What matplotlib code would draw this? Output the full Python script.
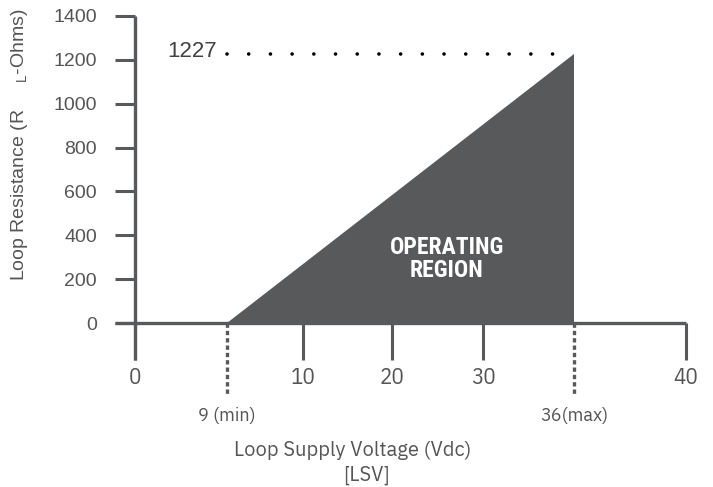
import numpy as np
import matplotlib.pyplot as plt
from matplotlib.font_manager import fontManager

# data
v_min = 9
v_max = 36
r_max = 1227
region_v = [v_min, v_max, v_max]
region_r = [0, 0, r_max]
x_ticks = [0, 10, 20, 30, 40]
y_ticks = [0, 200, 400, 600, 800, 1000, 1200, 1400]

# the drawing is a schematic: the voltage axis is not linear, so map it piecewise
scale_v = [-2, 0, 9, 10, 20, 30, 36, 40]
scale_px = [114.6, 135, 227, 303.5, 392, 483.5, 574, 686]


def fwd(x):
    return np.interp(x, scale_v, scale_px)


def inv(p):
    return np.interp(p, scale_px, scale_v)


grey = '#58595b'
text_grey = '#555555'
plex = ['IBM Plex Sans', 'DejaVu Sans']
plex_cond = ['IBM Plex Sans Condensed', 'DejaVu Sans']
helv = ['Liberation Sans', 'DejaVu Sans']

# pick a condensed family that really has a bold face
bold_cond = 'DejaVu Sans'
for fam in ['Roboto Condensed', 'Archivo Narrow', 'Barlow Semi Condensed', 'Fira Sans Condensed',
            'IBM Plex Sans Condensed']:
    if any(f.name == fam and f.weight in (700, 'bold') for f in fontManager.ttflist):
        bold_cond = fam
        break

W, H = 713, 487
fig = plt.figure(figsize=(W / 100, H / 100), dpi=100)
ax = fig.add_axes([114.6 / W, (H - 323) / H, (686 - 114.6) / W, (323 - 16) / H])
ax.set_xscale('function', functions=(fwd, inv))
ax.set_xlim(-2, 40)
ax.set_ylim(0, 1400)
for s in ax.spines.values():
    s.set_visible(False)
ax.spines['left'].set_position(('data', 0))
ax.spines['bottom'].set_position(('data', 0))

# operating region
ax.fill(region_v, region_r, color=grey, lw=0, zorder=2)

# axis lines
ax.plot([-2, 40], [0, 0], color=grey, lw=2.4, solid_capstyle='butt', clip_on=False, zorder=3)
ax.plot([0, 0], [-169, 1400], color=grey, lw=2.4, solid_capstyle='butt', clip_on=False, zorder=3)

# min/max markers below the axis
for v in [v_min, v_max]:
    ax.plot([v, v], [0, -324], color=grey, lw=2.4, dashes=(1.3, 0.9),
            clip_on=False, zorder=3)
ax.text(v_min, -424, '9 (min)', ha='center', va='center', fontsize=13,
        family=plex, color=text_grey, clip_on=False)
ax.text(v_max, -424, '36(max)', ha='center', va='center', fontsize=13,
        family=plex, color=text_grey, clip_on=False)

# dotted line at max resistance
ax.plot([v_min, v_max], [r_max, r_max], color='black', lw=2.6,
        dashes=(0.01, 6.0), dash_capstyle='round', zorder=1)
ax.annotate(str(r_max), xy=(v_min, r_max), xytext=(-7, 2), textcoords='offset points',
            ha='right', va='center', fontsize=16, family=helv, color='#414042')

ax.text(26, 291, 'OPERATING\nREGION', ha='center', va='center', color='white',
        fontsize=17, fontweight='bold', family=[bold_cond, 'DejaVu Sans'],
        linespacing=1.0, zorder=4)

ax.set_xticks(x_ticks)
ax.set_xticklabels([str(t) for t in x_ticks], family=plex_cond, fontsize=16.5, color=text_grey)
ax.set_yticks(y_ticks)
ax.set_yticklabels([str(t) for t in y_ticks], family=helv, fontsize=14, color=text_grey)
ax.tick_params(axis='x', direction='out', length=26.6, width=2.2, color=grey, pad=5)
ax.tick_params(axis='y', direction='out', length=14.4, width=2.2, color=grey, pad=13)

fig.text(20 / W, 1 - 145 / H, 'Loop Resistance (R     $_\\mathregular{L}$-Ohms)', rotation=90,
         ha='center', va='center', fontsize=14, family=helv, color=text_grey)
fig.text(353 / W, 1 - 450 / H, 'Loop Supply Voltage (Vdc)', ha='center', va='center',
         fontsize=14.5, family=plex, color=text_grey)
fig.text(366 / W, 1 - 475 / H, '[LSV]', ha='center', va='center',
         fontsize=14.5, family=plex, color=text_grey)

fig.savefig('out.png', dpi=100)
